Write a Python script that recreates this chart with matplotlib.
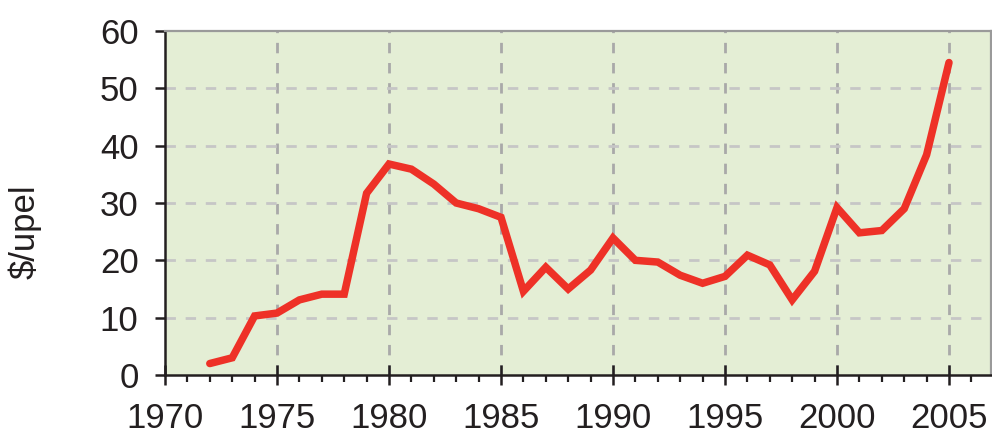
import matplotlib
matplotlib.use("Agg")
import matplotlib.pyplot as plt
from matplotlib.ticker import MultipleLocator

# Data
years = list(range(1972, 2006))
price = [2.0, 3.0, 10.3, 10.8, 13.1, 14.1, 14.1, 31.7, 36.8, 35.9,
         33.3, 30.0, 29.0, 27.5, 14.6, 18.8, 15.0, 18.3, 23.9, 20.0,
         19.7, 17.4, 16.0, 17.2, 20.9, 19.2, 13.1, 18.1, 29.2, 24.8,
         25.2, 29.0, 38.4, 54.5]
y_ticks = [0, 10, 20, 30, 40, 50, 60]
x_ticks = [1970, 1975, 1980, 1985, 1990, 1995, 2000, 2005]
y_label = "$/upel"

plt.rcParams["font.family"] = ["Liberation Sans", "DejaVu Sans"]
plt.rcParams["lines.scale_dashes"] = False

fig = plt.figure(figsize=(9.92, 4.34), dpi=100)
ax = fig.add_axes([165 / 992, 1 - 375 / 434, 826 / 992, 344 / 434])
ax.set_facecolor("#e4eed5")

ax.plot(years, price, color="#ee3127", lw=5.4, solid_capstyle="round",
        solid_joinstyle="miter", zorder=3)

ax.set_xlim(1970, 1970 + 826 / 22.4)
ax.set_ylim(0, 60)
ax.set_xticks(x_ticks)
ax.set_yticks(y_ticks)
ax.xaxis.set_minor_locator(MultipleLocator(1))

# grid
for x in x_ticks[1:]:
    ax.axvline(x, color="#a9a9a9", lw=2.0, dashes=(7.5, 7), zorder=1)
for y in y_ticks[1:-1]:
    ax.axhline(y, color="#c6c6c6", lw=2.0, dashes=(7.5, 7), zorder=1)

for s in ("top", "right"):
    ax.spines[s].set_color("#9a9a9a")
    ax.spines[s].set_linewidth(1.6)
for s in ("left", "bottom"):
    ax.spines[s].set_color("#231f20")
    ax.spines[s].set_linewidth(1.8)

ax.tick_params(axis="x", which="major", direction="inout", length=15,
               width=1.8, color="#231f20", labelsize=25, pad=12,
               labelcolor="#231f20")
ax.tick_params(axis="x", which="minor", direction="out", length=5,
               width=1.6, color="#231f20")
ax.tick_params(axis="y", which="major", direction="out", length=7,
               width=1.8, color="#231f20", labelsize=25, pad=12,
               labelcolor="#231f20")

fig.text(25 / 992, 1 - 232 / 434, y_label, rotation=90, fontsize=25,
         color="#231f20", ha="center", va="center")

fig.savefig("out.png", dpi=100)
